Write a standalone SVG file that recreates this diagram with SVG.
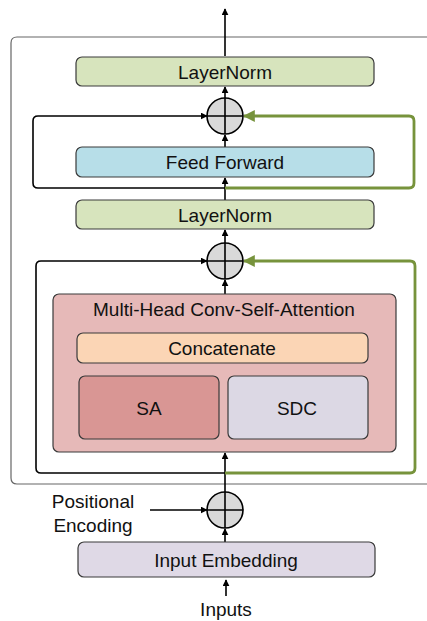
<svg xmlns="http://www.w3.org/2000/svg" width="427" height="621" viewBox="0 0 427 621">
  <defs>
    <marker id="arrow" viewBox="0 0 10 10" refX="9" refY="5" markerWidth="7" markerHeight="7" markerUnits="userSpaceOnUse" orient="auto">
      <path d="M0,0 L10,5 L0,10 z" fill="#000"/>
    </marker>
    <marker id="arrowG" viewBox="0 0 10 10" refX="9" refY="5" markerWidth="12" markerHeight="12" markerUnits="userSpaceOnUse" orient="auto">
      <path d="M0,0 L10,5 L0,10 z" fill="#77933c"/>
    </marker>
    <style>
      .box { stroke: #3a3a3a; stroke-width: 1.2; }
      .lbl { font-family: "Liberation Sans", Arial, sans-serif; font-size: 19px; fill: #111; text-anchor: middle; dominant-baseline: central; }
      .line { fill: none; stroke: #000; stroke-width: 1.6; }
      .green { fill: none; stroke: #77933c; stroke-width: 2.8; }
      .sum { fill: #d9d9d9; stroke: #000; stroke-width: 1.6; }
    </style>
  </defs>

  <!-- encoder frame (open on the right) -->
  <path d="M430,37 H17 Q11,37 11,43 V478 Q11,484 17,484 H430" fill="none" stroke="#666" stroke-width="1.2"/>

  <!-- connectors -->
  <g id="connectors">
    <line class="line" x1="225" y1="56" x2="225" y2="9" marker-end="url(#arrow)"/>
    <line class="line" x1="225" y1="98" x2="225" y2="87" marker-end="url(#arrow)"/>
    <line class="line" x1="225" y1="147" x2="225" y2="135" marker-end="url(#arrow)"/>
    <line class="line" x1="225" y1="200" x2="225" y2="178" marker-end="url(#arrow)"/>
    <path class="line" d="M225,188 H38 Q33,188 33,183 V121 Q33,116 38,116 H207" marker-end="url(#arrow)"/>
    <path class="green" d="M225,188 H409 Q414,188 414,183 V121 Q414,116 409,116 H244" marker-end="url(#arrowG)"/>

    <line class="line" x1="225" y1="243" x2="225" y2="230" marker-end="url(#arrow)"/>
    <line class="line" x1="225" y1="294" x2="225" y2="280" marker-end="url(#arrow)"/>
    <line class="line" x1="225" y1="492" x2="225" y2="453" marker-end="url(#arrow)"/>
    <path class="line" d="M225,473 H41 Q36,473 36,468 V266 Q36,261 41,261 H207" marker-end="url(#arrow)"/>
    <path class="green" d="M225,473 H410 Q415,473 415,468 V266 Q415,261 410,261 H244" marker-end="url(#arrowG)"/>

    <line class="line" x1="150" y1="510" x2="207" y2="510" marker-end="url(#arrow)"/>
    <line class="line" x1="225" y1="542" x2="225" y2="529" marker-end="url(#arrow)"/>
    <line class="line" x1="226" y1="596" x2="226" y2="580" marker-end="url(#arrow)"/>
  </g>

  <g id="layernorm-top">
    <rect class="box" x="76" y="57" width="298" height="29" rx="6" fill="#d7e4bd"/>
    <text class="lbl" x="225" y="72">LayerNorm</text>
  </g>

  <g id="add-top">
    <circle class="sum" cx="225" cy="116" r="18"/>
    <path class="line" d="M207,116 H243 M225,98 V134"/>
  </g>

  <g id="feed-forward">
    <rect class="box" x="76" y="147" width="298" height="30" rx="6" fill="#b7dee8"/>
    <text class="lbl" x="225" y="162">Feed Forward</text>
  </g>

  <g id="layernorm-mid">
    <rect class="box" x="76" y="200" width="298" height="29" rx="6" fill="#d7e4bd"/>
    <text class="lbl" x="225" y="215">LayerNorm</text>
  </g>

  <g id="add-mid">
    <circle class="sum" cx="225" cy="261" r="18"/>
    <path class="line" d="M207,261 H243 M225,243 V279"/>
  </g>

  <g id="mhcsa">
    <rect class="box" x="53" y="294" width="343" height="158" rx="6" fill="#e6b9b8"/>
    <text class="lbl" x="224" y="309">Multi-Head Conv-Self-Attention</text>
  </g>

  <g id="concatenate">
    <rect class="box" x="77" y="333" width="291" height="30" rx="6" fill="#fbd5b5"/>
    <text class="lbl" x="222" y="348">Concatenate</text>
  </g>

  <g id="sa">
    <rect class="box" x="79" y="376" width="140" height="63" rx="6" fill="#d99694"/>
    <text class="lbl" x="149" y="408">SA</text>
  </g>

  <g id="sdc">
    <rect class="box" x="228" y="376" width="140" height="63" rx="6" fill="#dcd8e4"/>
    <text class="lbl" x="297" y="408">SDC</text>
  </g>

  <g id="add-pos">
    <circle class="sum" cx="225" cy="510" r="18"/>
    <path class="line" d="M207,510 H243 M225,492 V528"/>
  </g>

  <g id="positional-encoding">
    <text class="lbl" x="93" y="501">Positional</text>
    <text class="lbl" x="93" y="525">Encoding</text>
  </g>

  <g id="input-embedding">
    <rect class="box" x="78" y="542" width="297" height="35" rx="6" fill="#dfd9e6"/>
    <text class="lbl" x="226" y="560">Input Embedding</text>
  </g>

  <g id="inputs">
    <text class="lbl" x="226" y="609">Inputs</text>
  </g>
</svg>
